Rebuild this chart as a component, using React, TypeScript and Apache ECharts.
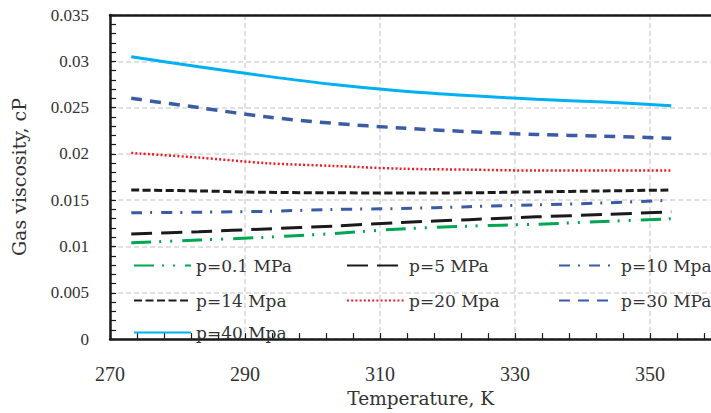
import React, { useEffect, useRef } from "react";
import * as echarts from "echarts";

const temperatures = [273.15, 283.15, 293.15, 303.15, 313.15, 323.15, 333.15, 343.15, 353.15];
const seriesNames = ["p=0.1 MPa", "p=5 MPa", "p=10 Mpa", "p=14 Mpa", "p=20 Mpa", "p=30 MPa", "p=40 Mpa"];
const visc01 = [0.0104, 0.0107, 0.011, 0.0114, 0.0119, 0.0122, 0.0124, 0.0127, 0.013];
const visc5 = [0.01135, 0.0116, 0.0119, 0.0122, 0.0126, 0.0129, 0.0132, 0.01345, 0.01375];
const visc10 = [0.01365, 0.0137, 0.0138, 0.014, 0.0141, 0.0143, 0.0145, 0.0147, 0.015];
const visc14 = [0.0161, 0.016, 0.01585, 0.0158, 0.01578, 0.0158, 0.0159, 0.016, 0.0161];
const visc20 = [0.0201, 0.0196, 0.019, 0.0187, 0.0184, 0.0183, 0.0182, 0.0182, 0.0182];
const visc30 = [0.026, 0.025, 0.024, 0.0233, 0.0228, 0.0224, 0.0221, 0.0219, 0.0217];
const visc40 = [0.0305, 0.0294, 0.0284, 0.0275, 0.0268, 0.0263, 0.0259, 0.0256, 0.0252];
const seriesValues = [visc01, visc5, visc10, visc14, visc20, visc30, visc40];

const styles = [
  { color: "#00A651", width: 3, type: [20, 8, 2, 9, 2, 10] },
  { color: "#1a1a1a", width: 3, type: [21, 9] },
  { color: "#3B5BA5", width: 3, type: [11, 8, 2, 9] },
  { color: "#1a1a1a", width: 3, type: [8, 3.5] },
  { color: "#EE1C25", width: 2.5, type: [2, 2.2] },
  { color: "#3B5BA5", width: 3.5, type: [11, 8] },
  { color: "#00B0F0", width: 3, type: "solid" },
];

const legendSlots = [
  [133, 264], [346, 264], [558, 264],
  [133, 299], [346, 299], [558, 299],
  [133, 331],
];

export default function App() {
  const ref = useRef<HTMLDivElement>(null);
  useEffect(() => {
    if (!ref.current) return;
    const chart = echarts.init(ref.current, null, { renderer: "svg" });
    const axisColor = "#1a1a1a";
    const split = { show: true, lineStyle: { color: "#d6d6d6", type: [5, 3], width: 1.5 } };
    const tick = { show: true, inside: true, length: 6, lineStyle: { color: axisColor, width: 1.2 } };
    const option = {
      animation: false,
      grid: { left: 110, right: 0.5, top: 15, bottom: 67.5, show: false },
      xAxis: [
        {
          type: "value", min: 270, max: 360, interval: 20,
          axisLine: { show: true, onZero: false, lineStyle: { color: axisColor, width: 2.5 } },
          axisTick: tick,
          minorTick: { show: true, splitNumber: 5, length: 6, lineStyle: { color: axisColor, width: 1.2 } },
          splitLine: split,
          axisLabel: { showMaxLabel: false, margin: 25, fontSize: 20, fontFamily: "Liberation Serif", color: "#333" },
          name: "Temperature, K", nameLocation: "middle", nameGap: 47,
          nameTextStyle: { fontSize: 18.5, fontFamily: "DejaVu Serif", color: "#333", padding: [0, 0, 0, 14] },
        },
        {
          type: "value", min: 270, max: 360, interval: 20, position: "top",
          axisLine: { show: true, onZero: false, lineStyle: { color: axisColor, width: 2.5 } },
          axisTick: { show: false }, axisLabel: { show: false }, splitLine: { show: false },
        },
      ],
      yAxis: {
        type: "value", min: 0, max: 0.035, interval: 0.005,
        axisLine: { show: true, lineStyle: { color: axisColor, width: 2.5 } },
        axisTick: tick,
        minorTick: { show: true, splitNumber: 5, length: 6, lineStyle: { color: axisColor, width: 1.2 } },
        splitLine: split,
        axisLabel: { margin: 21, fontSize: 17, fontFamily: "Liberation Serif", color: "#333" },
        name: "Gas viscosity, cP", nameLocation: "middle", nameGap: 82,
        nameTextStyle: { fontSize: 19, fontFamily: "DejaVu Serif", color: "#333" },
      },
      legend: seriesNames.map((n, i) => ({
        data: [n],
        left: legendSlots[i][0],
        top: legendSlots[i][1] - 7,
        padding: 0,
        itemWidth: 57,
        itemHeight: 14,
        itemGap: 0,
        selectedMode: false,
        itemStyle: { opacity: 0 },
        textStyle: { fontFamily: "DejaVu Serif", fontSize: 17, color: "#333", lineHeight: 14 },
      })),
      series: seriesNames.map((n, i) => ({
        name: n,
        type: "line",
        xAxisIndex: 0,
        symbol: "none",
        smooth: 0.3,
        color: styles[i].color,
        lineStyle: { color: styles[i].color, width: styles[i].width, type: styles[i].type, cap: "butt" },
        data: temperatures.map((t, k) => [t, seriesValues[i][k]]),
      })),
    };
    chart.setOption(option as any);
    return () => chart.dispose();
  }, []);
  return (
    <div style={{ position: "fixed", left: 0, top: 0, width: 711, height: 413, overflow: "hidden", background: "#fff" }}>
      <div ref={ref} style={{ width: 718, height: 413 }} />
    </div>
  );
}
